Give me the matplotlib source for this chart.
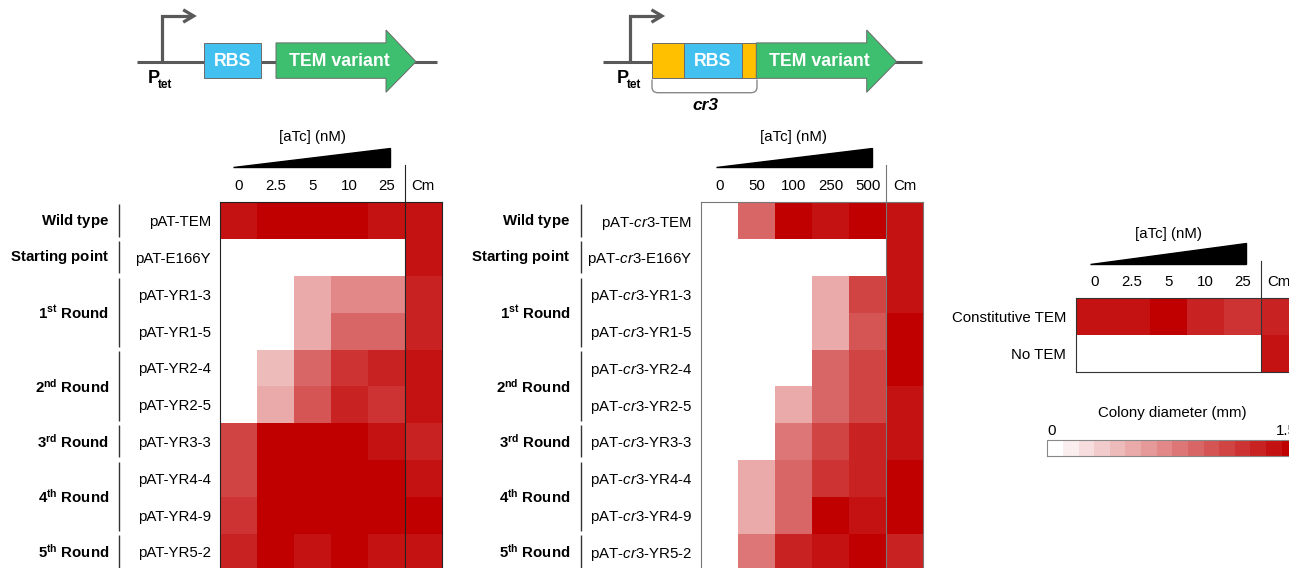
import matplotlib.pyplot as plt
import matplotlib.patches as mpatches
from matplotlib.path import Path
from matplotlib.colors import LinearSegmentedColormap, Normalize
from matplotlib.cm import ScalarMappable
import numpy as np

plt.rcParams['font.family'] = ['Liberation Sans', 'DejaVu Sans']
plt.rcParams['mathtext.fontset'] = 'custom'
plt.rcParams['mathtext.rm'] = 'Liberation Sans'
plt.rcParams['mathtext.it'] = 'Liberation Sans:italic'
plt.rcParams['mathtext.bf'] = 'Liberation Sans:bold'

W, H = 1289, 568

# ---- data: colony diameter (mm) ----
atc_left = ['0', '2.5', '5', '10', '25', 'Cm']
atc_mid = ['0', '50', '100', '250', '500', 'Cm']
atc_ctrl = ['0', '2.5', '5', '10', '25', 'Cm']

groups = [r'$\mathbf{Wild\ type}$', r'$\mathbf{Starting\ point}$',
          r'$\mathbf{1^{st}\ Round}$', r'$\mathbf{2^{nd}\ Round}$',
          r'$\mathbf{3^{rd}\ Round}$', r'$\mathbf{4^{th}\ Round}$',
          r'$\mathbf{5^{th}\ Round}$']
group_rows = [(0, 0), (1, 1), (2, 3), (4, 5), (6, 6), (7, 8), (9, 9)]

samples_left = ['pAT-TEM', 'pAT-E166Y', 'pAT-YR1-3', 'pAT-YR1-5', 'pAT-YR2-4',
                'pAT-YR2-5', 'pAT-YR3-3', 'pAT-YR4-4', 'pAT-YR4-9', 'pAT-YR5-2']
samples_mid = [r'pAT-$\mathit{cr3}$-TEM', r'pAT-$\mathit{cr3}$-E166Y',
               r'pAT-$\mathit{cr3}$-YR1-3', r'pAT-$\mathit{cr3}$-YR1-5',
               r'pAT-$\mathit{cr3}$-YR2-4', r'pAT-$\mathit{cr3}$-YR2-5',
               r'pAT-$\mathit{cr3}$-YR3-3', r'pAT-$\mathit{cr3}$-YR4-4',
               r'pAT-$\mathit{cr3}$-YR4-9', r'pAT-$\mathit{cr3}$-YR5-2']
samples_ctrl = ['Constitutive TEM', 'No TEM']

vals_left = [
    [1.4, 1.5, 1.5, 1.5, 1.4, 1.4],
    [0.0, 0.0, 0.0, 0.0, 0.0, 1.4],
    [0.0, 0.0, 0.5, 0.7, 0.7, 1.3],
    [0.0, 0.0, 0.5, 0.9, 0.9, 1.3],
    [0.0, 0.4, 0.9, 1.2, 1.3, 1.4],
    [0.0, 0.5, 1.0, 1.3, 1.2, 1.4],
    [1.1, 1.5, 1.5, 1.5, 1.4, 1.3],
    [1.1, 1.5, 1.5, 1.5, 1.5, 1.4],
    [1.2, 1.5, 1.5, 1.5, 1.5, 1.5],
    [1.3, 1.5, 1.4, 1.5, 1.4, 1.4],
]
vals_mid = [
    [0.0, 0.9, 1.5, 1.4, 1.5, 1.4],
    [0.0, 0.0, 0.0, 0.0, 0.0, 1.4],
    [0.0, 0.0, 0.0, 0.5, 1.1, 1.4],
    [0.0, 0.0, 0.0, 0.5, 1.0, 1.5],
    [0.0, 0.0, 0.0, 0.9, 1.1, 1.5],
    [0.0, 0.0, 0.5, 0.9, 1.1, 1.4],
    [0.0, 0.0, 0.8, 1.1, 1.3, 1.4],
    [0.0, 0.5, 0.9, 1.2, 1.3, 1.5],
    [0.0, 0.5, 0.9, 1.5, 1.4, 1.5],
    [0.0, 0.8, 1.3, 1.4, 1.5, 1.3],
]
vals_ctrl = [
    [1.4, 1.4, 1.5, 1.3, 1.2, 1.3],
    [0.0, 0.0, 0.0, 0.0, 0.0, 1.4],
]

cmap = LinearSegmentedColormap.from_list('colony', ['#FFFFFF', '#C00000']).resampled(16)
norm = Normalize(0, 1.5)

fig = plt.figure(figsize=(W / 100, H / 100), dpi=100)
bg = fig.add_axes([0, 0, 1, 1])
bg.set_xlim(0, W)
bg.set_ylim(H, 0)
bg.axis('off')

FS = 10.8
GRAY = '#595959'


def heatmap(x0, y0, vals, cols, rows, cw, rh, frame, ypad):
    nr, nc = len(vals), len(vals[0])
    ax = fig.add_axes([x0 / W, 1 - (y0 + nr * rh) / H, nc * cw / W, nr * rh / H])
    ax.pcolormesh(np.array(vals), cmap=cmap, norm=norm)
    ax.set_xlim(0, nc)
    ax.set_ylim(nr, 0)
    ax.xaxis.tick_top()
    ax.set_xticks(np.arange(nc) + 0.5, cols)
    ax.set_yticks(np.arange(nr) + 0.5, rows)
    ax.tick_params(axis='x', length=0, labelsize=FS, pad=7)
    ax.tick_params(axis='y', length=0, labelsize=FS, pad=ypad)
    for s in ax.spines.values():
        s.set_color(frame)
        s.set_linewidth(0.8)
    # Cm separator
    ax.plot([nc - 1, nc - 1], [nr, -1.0], color=frame, lw=0.8, clip_on=False)
    return ax


def wedge(ax, x0, x1, yb, yt, ylab):
    ax.fill([x0, x1, x1], [yb, yb, yt], color='black', clip_on=False)
    ax.text(2.5, ylab, '[aTc] (nM)', ha='center', va='center', fontsize=FS)


def groups_axis(ax, xg, xs):
    for lab, (r0, r1) in zip(groups, group_rows):
        ax.text(xg, (r0 + r1 + 1) / 2, lab, ha='right', va='center', fontsize=FS)
        ax.plot([xs, xs], [r0 + 0.05, r1 + 0.93], color='#333333', lw=1.0,
                clip_on=False, solid_capstyle='butt')


# ---- heatmaps ----
ax1 = heatmap(220, 202.3, vals_left, atc_left, samples_left, 36.95, 36.8, '#222222', 6.6)
wedge(ax1, 0.35, 4.6, -0.95, -1.48, -1.77)
groups_axis(ax1, -3.0, -2.73)

ax2 = heatmap(701.3, 202.3, vals_mid, atc_mid, samples_mid, 37, 36.8, '#777777', 6.6)
wedge(ax2, 0.4, 4.62, -0.95, -1.48, -1.77)
groups_axis(ax2, -3.53, -3.26)

ax3 = heatmap(1075.7, 298.3, vals_ctrl, atc_ctrl, samples_ctrl, 37, 37, '#333333', 7)
wedge(ax3, 0.39, 4.6, -0.93, -1.49, -1.73)

# ---- colour bar ----
cax = fig.add_axes([1047.3 / W, 1 - 455.5 / H, 250 / W, 15.5 / H])
cb = fig.colorbar(ScalarMappable(norm=norm, cmap=cmap), cax=cax,
                  orientation='horizontal', ticks=[])
cb.outline.set_edgecolor('#888888')
cb.outline.set_linewidth(0.8)
bg.text(1172, 413.3, 'Colony diameter (mm)', ha='center', va='center', fontsize=FS)
bg.text(1047.3, 431, '0', ha='left', va='center', fontsize=FS)
bg.text(1297, 431, '1.5', ha='right', va='center', fontsize=FS)


# ---- construct schematics ----
def promoter(x, xl, xr):
    bg.plot([xl, xr], [61.7, 61.7], color=GRAY, lw=2.2, solid_capstyle='butt', zorder=1)
    bg.plot([x, x, x + 30], [61.7, 16, 16], color=GRAY, lw=2.3,
            solid_joinstyle='miter', solid_capstyle='butt')
    bg.plot([x + 21.5, x + 32, x + 21.5], [9.8, 16, 22.2], color=GRAY, lw=2.3,
            solid_joinstyle='miter', solid_capstyle='butt')
    bg.text(x - 13.5, 83.3, 'P', fontsize=13, fontweight='bold', va='baseline')
    bg.text(x - 3.5, 87.5, 'tet', fontsize=8.5, fontweight='bold', va='baseline')


def box(x0, x1, color):
    bg.add_patch(mpatches.Rectangle((x0, 42.9), x1 - x0, 35.4, fc=color,
                                    ec='#6b6b6b', lw=0.7, zorder=2))


def tem_arrow(x0, xh, xt):
    pts = [(x0, 42.9), (xh, 42.9), (xh, 30), (xt, 61.7), (xh, 92.3), (xh, 78.3), (x0, 78.3)]
    bg.add_patch(mpatches.Polygon(pts, closed=True, fc='#3EBF6F', ec='#6b6b6b',
                                  lw=0.7, zorder=2))
    bg.text((x0 + xh) / 2 + 8, 61.2, 'TEM variant', color='white', fontsize=12.8,
            fontweight='bold', ha='center', va='center', zorder=3)


BLUE = '#42C0F0'
ORANGE = '#FFC000'

promoter(161.7, 137.3, 436.7)
box(203.7, 261, BLUE)
bg.text(232.3, 61.2, 'RBS', color='white', fontsize=12.8, fontweight='bold',
        ha='center', va='center', zorder=3)
tem_arrow(276, 386, 416)

promoter(630, 603.3, 921.7)
box(651.7, 684.3, ORANGE)
box(684.3, 741.7, BLUE)
box(741.7, 756.3, ORANGE)
bg.text(713, 61.2, 'RBS', color='white', fontsize=12.8, fontweight='bold',
        ha='center', va='center', zorder=3)
tem_arrow(756.3, 866.7, 896.7)

verts = [(652, 79.5), (652, 87), (652, 92.7), (658, 92.7), (751, 92.7),
         (757, 92.7), (757, 87), (757, 79.5)]
codes = [Path.MOVETO, Path.LINETO, Path.CURVE3, Path.CURVE3, Path.LINETO,
         Path.CURVE3, Path.CURVE3, Path.LINETO]
bg.add_patch(mpatches.PathPatch(Path(verts, codes), fc='none', ec='#888888', lw=1.0))
bg.text(705, 106, 'cr3', fontsize=12.5, fontweight='bold', style='italic',
        ha='center', va='center')

fig.savefig('out.png', dpi=100)
